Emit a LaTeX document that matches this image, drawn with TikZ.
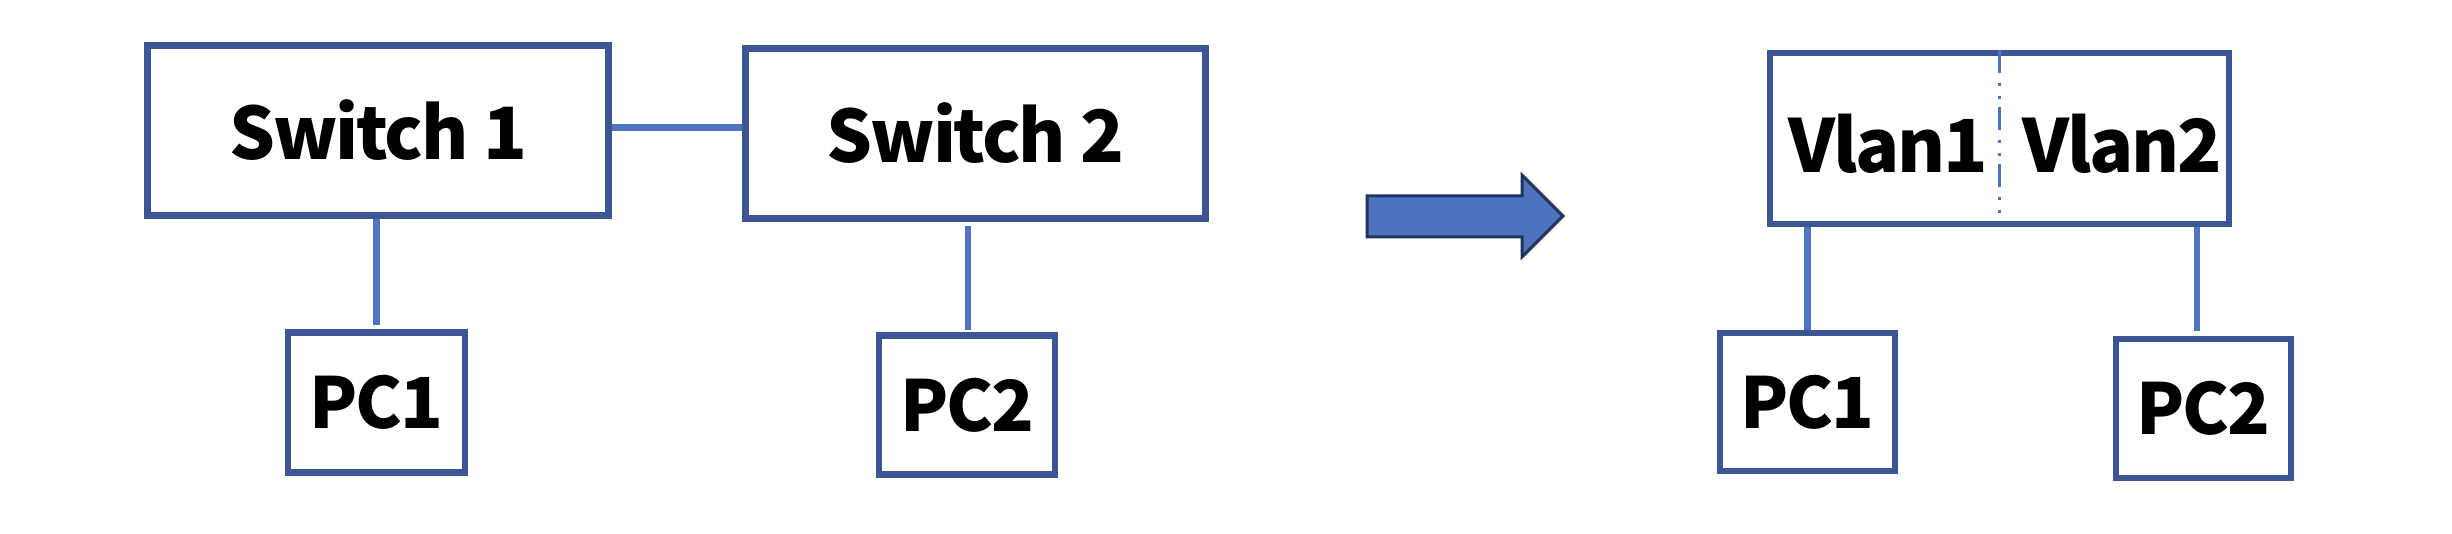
\documentclass[tikz,border=0pt]{standalone}
\usepackage{fontspec}
\newfontfamily\lab{Noto Sans CJK SC}[LetterSpace=-3]
\usetikzlibrary{backgrounds}
\definecolor{boxc}{RGB}{59,86,146}
\definecolor{linkc}{RGB}{79,116,196}
\definecolor{arrfill}{RGB}{79,114,190}
\definecolor{arrdraw}{RGB}{31,53,96}
\tikzset{
  box/.style={draw=boxc, line width=0.065cm, fill=white, inner sep=0pt,
    font=\lab\bfseries\fontsize{20.5pt}{25pt}\selectfont},
  pcbox/.style={box, font=\lab\bfseries\fontsize{20pt}{24pt}\selectfont},
  lbl/.style={inner sep=0pt, anchor=base, font=\lab\bfseries\fontsize{20.8pt}{25pt}\selectfont},
  link/.style={draw=linkc, line width=0.065cm},
  divider/.style={draw=linkc, line width=0.03cm,
    dash pattern=on 0.23cm off 0.1cm on 0.03cm off 0.1cm on 0.03cm off 0.08cm},
}
\begin{document}
\begin{tikzpicture}[x=0.01cm,y=-0.01cm]
\useasboundingbox (0,0) rectangle (2452,534);
% left network
\node[box, minimum width=4.61cm, minimum height=1.70cm] (s1) at (378,130.5) {Switch 1};
\node[box, minimum width=4.60cm, minimum height=1.70cm] (s2) at (975.5,133.5) {Switch 2};
\node[pcbox, minimum width=1.77cm, minimum height=1.40cm] (pc1l) at (376.5,402.5) {PC1};
\node[pcbox, minimum width=1.76cm, minimum height=1.39cm] (pc2l) at (967,405) {PC2};
% arrow
\draw[fill=arrfill, draw=arrdraw, line width=0.03cm, line join=miter]
  (1367,196) -- (1522,196) -- (1522,175) -- (1563,216) -- (1522,257) -- (1522,237) -- (1367,237) -- cycle;
% right network
\node[box, minimum width=4.59cm, minimum height=1.71cm] (vlan) at (1999.5,138.5) {};
\node[lbl] (v1) at (1888.5,173) {Vlan1};
\node[lbl] (v2) at (2122.5,173) {Vlan2};
\node[pcbox, minimum width=1.75cm, minimum height=1.38cm] (pc1r) at (1807.5,402) {PC1};
\node[pcbox, minimum width=1.75cm, minimum height=1.39cm] (pc2r) at (2203.5,408.5) {PC2};
\draw[divider] (vlan.north) -- ([yshift=0.12cm]vlan.south);
\begin{scope}[on background layer]
  \draw[link] ([yshift=0.03cm]s1.east) -- ([yshift=0.03cm]s1.east -| s2.west);
  \draw[link, shorten >=0.04cm] (s1.south -| pc1l.north) -- (pc1l.north);
  \draw[link, shorten <=0.04cm, shorten >=0.02cm] ([xshift=0.01cm]s2.south -| pc2l.north) -- ([xshift=0.01cm]pc2l.north);
  \draw[link] (vlan.south -| pc1r.north) -- (pc1r.north);
  \draw[link, shorten >=0.05cm] ([xshift=-0.065cm]vlan.south -| pc2r.north) -- ([xshift=-0.065cm]pc2r.north);
\end{scope}
\end{tikzpicture}
\end{document}
